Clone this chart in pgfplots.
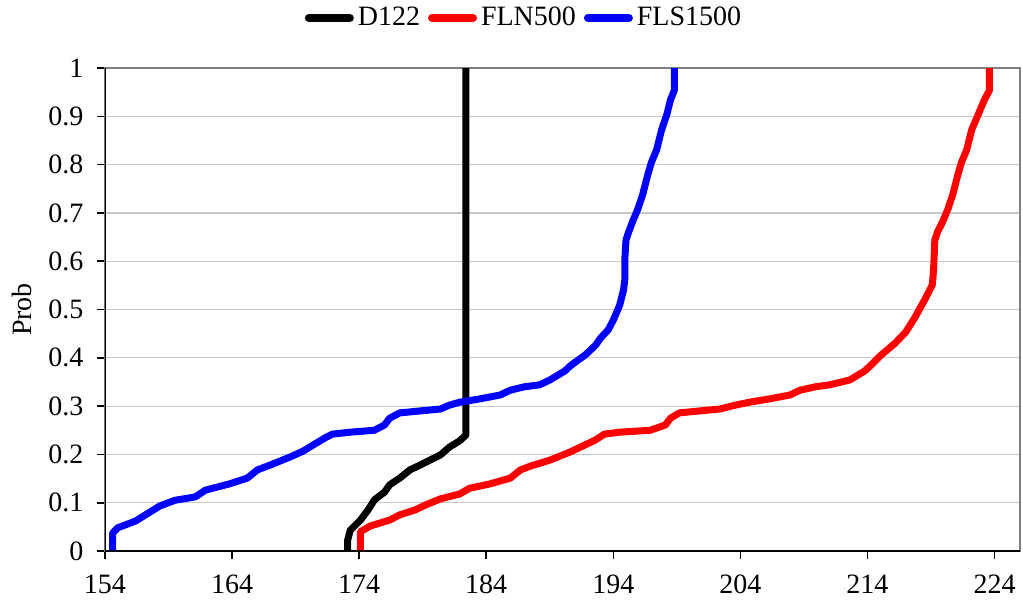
\documentclass[border=0pt]{standalone}
\usepackage{fontspec}
\setmainfont{Liberation Serif}
\usepackage{pgfplots}
\pgfplotsset{compat=1.18}
\definecolor{gridgray}{RGB}{200,200,200}
\definecolor{framegray}{RGB}{128,128,128}
\begin{document}
\fontsize{14}{16}\selectfont
\begin{tikzpicture}
\begin{axis}[
  scale only axis, width=457.5pt, height=241.5pt,
  xmin=154, xmax=226, ymin=0, ymax=1,
  xtick={154,164,174,184,194,204,214,224},
  ytick={0,0.1,...,1.0},
  yticklabels={0,0.1,0.2,0.3,0.4,0.5,0.6,0.7,0.8,0.9,1},
  xtick pos=bottom, ytick pos=left, tick align=outside,
  major tick length=4pt, tick style={black, line width=0.8pt},
  /pgf/number format/assume math mode=true,
  ticklabel style={font=\fontsize{14}{16}\selectfont},
  xticklabel style={yshift=-3pt},
  yticklabel style={xshift=-2pt},
  ymajorgrids, grid style={gridgray, line width=0.6pt},
  axis line style={framegray, line width=1.4pt},
  ylabel={Prob}, ylabel style={font=\fontsize{14}{16}\selectfont, yshift=-1.5pt},
  legend columns=3,
  legend style={draw=none, at={(0.459,1.0)}, anchor=center, yshift=25pt,
    font=\fontsize{14}{16}\selectfont, column sep=0pt,
    /tikz/every even column/.append style={column sep=2pt}},
  legend image code/.code={\draw[#1, line width=4pt, line cap=round] (0pt,0pt) -- (0.72cm,0pt);},
  every axis plot/.append style={line width=3.5pt, line join=round, line cap=round, mark=none},
]
\addplot[black] coordinates {
(173.1,0) (173.1,0.023) (173.3,0.043) (174.1,0.064) (174.7,0.085) (175.2,0.106)
(176.0,0.122) (176.4,0.137) (177.2,0.151) (178.0,0.168) (178.8,0.178) (180.4,0.199)
(181.1,0.215) (181.9,0.228) (182.4,0.24) (182.4,1.0)
};
\addlegendentry{D122}
\addplot[red] coordinates {
(174.1,0) (174.1,0.04) (174.9,0.052) (176.4,0.064) (177.2,0.075) (178.4,0.085)
(179.2,0.095) (180.4,0.108) (181.9,0.118) (182.7,0.13) (184.3,0.139) (185.9,0.151)
(186.7,0.168) (187.5,0.176) (189.0,0.188) (190.6,0.205) (191.4,0.215) (192.6,0.23)
(193.3,0.242) (194.5,0.246) (196.9,0.25) (198.1,0.261) (198.5,0.275) (199.2,0.286)
(200.8,0.29) (202.4,0.294) (203.6,0.302) (204.7,0.308) (206.3,0.315) (207.9,0.323)
(208.7,0.333) (209.9,0.34) (211.0,0.344) (212.6,0.354) (213.8,0.373) (214.2,0.383)
(215.0,0.404) (216.2,0.431) (217.0,0.453) (217.7,0.482) (218.5,0.52) (219.1,0.551)
(219.2,0.582) (219.3,0.644) (219.5,0.66) (219.9,0.681) (220.3,0.706) (220.7,0.737)
(221.1,0.778) (221.4,0.805) (221.8,0.83) (222.2,0.872) (222.7,0.903) (223.2,0.934)
(223.6,0.954) (223.6,1.0)
};
\addlegendentry{FLN500}
\addplot[blue] coordinates {
(154.6,0) (154.6,0.037) (155.0,0.048) (156.4,0.062) (157.5,0.08) (158.3,0.093)
(159.5,0.105) (161.1,0.112) (161.9,0.126) (163.8,0.139) (165.2,0.151) (166.0,0.168)
(167.0,0.178) (168.6,0.195) (169.6,0.207) (170.1,0.215) (171.3,0.234) (171.9,0.242)
(173.3,0.246) (175.2,0.25) (176.0,0.261) (176.4,0.275) (177.2,0.286) (178.8,0.29)
(180.4,0.294) (181.1,0.302) (181.9,0.308) (183.5,0.315) (185.1,0.323) (185.9,0.333)
(187.0,0.34) (188.2,0.344) (189.0,0.354) (190.2,0.373) (190.6,0.383) (191.0,0.391)
(191.8,0.406) (192.6,0.426) (193.0,0.441) (193.6,0.458) (194.0,0.478) (194.5,0.509)
(194.8,0.54) (194.9,0.561) (194.9,0.603) (195.0,0.644) (195.2,0.66) (195.5,0.681)
(195.9,0.706) (196.3,0.737) (196.7,0.778) (197.0,0.805) (197.4,0.83) (197.8,0.872)
(198.2,0.903) (198.5,0.934) (198.8,0.954) (198.8,1.0)
};
\addlegendentry{FLS1500}
\draw[black, line width=1pt] (rel axis cs:0,1) -- (rel axis cs:0,0) -- (rel axis cs:1,0);
\end{axis}
\pgfresetboundingbox
\path[use as bounding box] (-52.5pt,-28pt) rectangle (459pt,275.5pt);
\end{tikzpicture}
\end{document}
